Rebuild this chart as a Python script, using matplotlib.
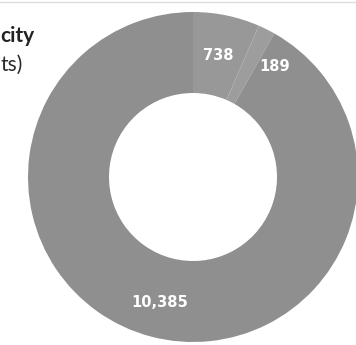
import numpy as np
import matplotlib.pyplot as plt

# donut values (clockwise from the top)
values = [738, 189, 10385]
labels = ['738', '189', '10,385']
colors = ['#989898', '#9d9d9d', '#8f8f8f']

fig = plt.figure(figsize=(3.56, 3.45), dpi=100)
ax = fig.add_axes([0, 0, 1, 1])

cx, cy, R = 193, 168, 165
wedges, _ = ax.pie(values, colors=colors, startangle=90, counterclock=False,
                   center=(cx, cy), radius=R, frame=True,
                   wedgeprops=dict(width=R - 84, linewidth=0))
ax.set_xlim(0, 356)
ax.set_ylim(0, 345)
ax.set_aspect('auto')
ax.axis('off')

# label placement: radius and small angle nudge for the crowded slice
lab_r = [124, 137, 130]
lab_shift = [0, -10, 0]
for w, lab, r, s in zip(wedges, labels, lab_r, lab_shift):
    ang = np.deg2rad((w.theta1 + w.theta2) / 2 + s)
    ax.text(cx + r * np.cos(ang), cy + r * np.sin(ang), lab, color='white',
            fontsize=10.5, fontweight='bold', ha='center', va='center',
            family='DejaVu Sans')

# title fragments visible at the left edge
fig.text(0.5 / 356, 1 - 36 / 345, 'city', ha='left', va='center',
         fontsize=15, fontweight='bold', family='Lato', color='#222222')
fig.text(0.5 / 356, 1 - 65 / 345, 'ts)', ha='left', va='center',
         fontsize=15, family='Lato', color='#2a2a2a')

# thin border line at the top
fig.add_artist(plt.Line2D([0, 1], [1 - 2 / 345, 1 - 2 / 345], color='#dddddd', lw=1))

fig.savefig('out.png', dpi=100)
